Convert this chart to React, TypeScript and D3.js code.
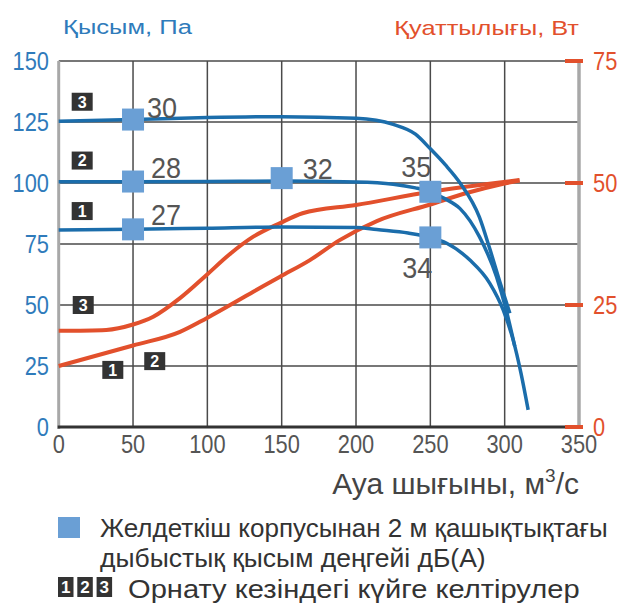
import React from "react";
import * as d3 from "d3";

// ---- Data ----
// Pressure curves (Pa) vs air flow
const pressure3: [number, number][] = [
  [0, 125.3], [50, 126], [100, 126.8], [150, 127.2], [200, 126.5], [225, 124], [240, 120],
  [250, 114], [260, 107.5], [270, 100], [283, 86], [290, 73], [297, 59], [303.5, 46.6],
];
const pressure2: [number, number][] = [
  [0, 100.5], [50, 100.5], [100, 100.6], [150, 100.8], [200, 100.4], [225, 99.5], [240, 98],
  [250, 96.4], [260, 93.5], [270, 89.5], [283, 78], [294.5, 61.6], [301, 48], [306.8, 33],
];
const pressure1: [number, number][] = [
  [0, 80.7], [50, 81], [100, 81.5], [150, 82], [200, 81.8], [214, 80.9], [235, 79.5],
  [250, 77.7], [261, 75.3], [276.6, 68.4], [290, 58.9], [299, 48], [305.7, 35.7], [311, 22], [315.8, 7],
];
// Power curves (W)
const power3: [number, number][] = [
  [0, 19.7], [32, 19.9], [50, 21], [63.6, 22.6], [81.6, 26.4], [99.3, 31.1], [115, 35.4],
  [130.9, 39], [149, 41.8], [164, 43.8], [200, 45.5], [250, 48.2], [310, 50.6],
];
const power1: [number, number][] = [
  [0, 12.5], [50, 16.7], [81.6, 19.5], [99.5, 22.3], [130.9, 27.7], [148.9, 30.8], [169, 34.2],
  [189, 38.3], [214, 42.2], [250, 45.6], [275, 48], [297, 49.7], [310, 50.5],
];
// Sound pressure markers: [flow, pressure, dB(A)]
const markers: [number, number, string][] = [
  [50, 126, "30"], [50, 100.6, "28"], [50, 81, "27"], [150, 102, "32"], [250, 96.4, "35"], [250, 77.7, "34"],
];
const xTicks = [0, 50, 100, 150, 200, 250, 300, 350];
const yLeftTicks = [0, 25, 50, 75, 100, 125, 150];
const yRightTicks = [0, 25, 50, 75];
// Setting labels: [label, flow, pressure]
const curveTags: [string, number, number][] = [
  ["3", 15.8, 133.3], ["2", 15.8, 109.2], ["1", 15.8, 88.5],
  ["3", 16.5, 50], ["1", 36.4, 23.4], ["2", 64.6, 27],
];

const titleLeft = "Қысым, Па";
const titleRight = "Қуаттылығы, Вт";
const legend1a = "Желдеткіш корпусынан 2 м қашықтықтағы";
const legend1b = "дыбыстық қысым деңгейі дБ(А)";
const legend2 = "Орнату кезіндегі күйге келтірулер";

const BLUE = "#1b6dab";
const BLUE_TXT = "#2f7bbb";
const RED = "#e2502c";
const MARK = "#6a9fd5";
const GRID = "#4a4a4a";
const SANS = "'Liberation Sans', Arial, sans-serif";

function SText(props: {
  x: number; y: number; sx: number; size: number; fill: string; anchor?: string; dy?: string;
  weight?: string; children: React.ReactNode;
}) {
  const { x, y, sx, size, fill, anchor = "start", dy, weight, children } = props;
  return (
    <text transform={`translate(${x},${y}) scale(${sx},1)`} textAnchor={anchor} dy={dy}
      fontFamily={SANS} fontSize={size} fill={fill} fontWeight={weight}>{children}</text>
  );
}

export default function App() {
  const W = 621, H = 609;
  const x = d3.scaleLinear().domain([0, 350]).range([58.7, 579]);
  const yL = d3.scaleLinear().domain([0, 150]).range([427, 61]);
  const yR = d3.scaleLinear().domain([0, 75]).range([427, 61]);

  const blueLine = d3.line<[number, number]>().x(d => x(d[0])).y(d => yL(d[1])).curve(d3.curveMonotoneX);
  const redLine = d3.line<[number, number]>().x(d => x(d[0])).y(d => yR(d[1])).curve(d3.curveMonotoneX);

  const labelOffset: Record<string, { dx: number; dy: number; anchor: string }> = {
    "30": { dx: 14, dy: -2, anchor: "start" },
    "28": { dx: 18, dy: -4, anchor: "start" },
    "27": { dx: 18, dy: -4, anchor: "start" },
    "32": { dx: 21, dy: 1, anchor: "start" },
    "35": { dx: 1, dy: -15, anchor: "end" },
    "34": { dx: 2, dy: 41, anchor: "end" },
  };

  return (
    <svg width={W} height={H} style={{ position: "absolute", left: 0, top: 0, background: "#fff" }}>
      {/* grid */}
      {yLeftTicks.filter(t => t > 0).map(t => (
        <line key={"h" + t} x1={x(0)} x2={x(350)} y1={yL(t)} y2={yL(t)} stroke={GRID} strokeWidth={1.5} />
      ))}
      {xTicks.filter(t => t > 0 && t < 350).map(t => (
        <line key={"v" + t} x1={x(t)} x2={x(t)} y1={yL(150)} y2={yL(0)} stroke={GRID} strokeWidth={1.5} />
      ))}
      {/* axes */}
      <line x1={x(0)} x2={x(0)} y1={yL(150)} y2={yL(0) + 2} stroke="#a8a8a8" strokeWidth={3} />
      <line x1={x(350)} x2={x(350)} y1={yL(150)} y2={yL(0) + 2} stroke="#a8a8a8" strokeWidth={3.5} />
      <line x1={x(0) - 1} x2={x(350)} y1={yL(0)} y2={yL(0)} stroke="#333" strokeWidth={3} />
      {yRightTicks.map(t => (
        <line key={"rt" + t} x1={x(350) - 14} x2={x(350) + 4} y1={yR(t)} y2={yR(t)} stroke={RED} strokeWidth={4} />
      ))}

      {/* tick labels */}
      {yLeftTicks.map(t => (
        <SText key={"yl" + t} x={49} y={yL(t)} sx={0.84} dy="0.36em" anchor="end" size={26} fill={BLUE_TXT}>{t}</SText>
      ))}
      {yRightTicks.map(t => (
        <SText key={"yr" + t} x={593} y={yR(t)} sx={0.84} dy="0.36em" size={26} fill={RED}>{t}</SText>
      ))}
      {xTicks.map(t => (
        <SText key={"x" + t} x={x(t)} y={453} sx={0.84} anchor="middle" size={26} fill="#555">{t}</SText>
      ))}

      {/* power curves */}
      {[power3, power1].map((d, i) => (
        <path key={"p" + i} d={redLine(d) || ""} fill="none" stroke={RED} strokeWidth={4} strokeLinejoin="round" />
      ))}
      {/* pressure curves */}
      {[pressure3, pressure2, pressure1].map((d, i) => (
        <path key={"b" + i} d={blueLine(d) || ""} fill="none" stroke={BLUE} strokeWidth={3.5} />
      ))}

      {/* markers */}
      {markers.map(([f, p, lab], i) => {
        const o = labelOffset[lab];
        return (
          <g key={"m" + i}>
            <rect x={x(f) - 11} y={yL(p) - 11} width={22} height={22} fill={MARK} />
            <SText x={x(f) + o.dx} y={yL(p) + o.dy} sx={0.9} anchor={o.anchor} size={30} fill="#555">{lab}</SText>
          </g>
        );
      })}

      {/* curve tags */}
      {curveTags.map(([lab, f, p], i) => (
        <g key={"t" + i}>
          <rect x={x(f) - 10.5} y={yL(p) - 9} width={21} height={18} fill="#333" />
          <text x={x(f)} y={yL(p)} dy="0.36em" textAnchor="middle" fontFamily={SANS} fontWeight="bold" fontSize={16} fill="#fff">{lab}</text>
        </g>
      ))}

      {/* titles */}
      <SText x={63} y={34} sx={1.22} size={21} fill={BLUE_TXT}>{titleLeft}</SText>
      <SText x={579} y={35} sx={1.21} anchor="end" size={21} fill={RED}>{titleRight}</SText>
      <text x={579} y={494} textAnchor="end" fontFamily={SANS} fontSize={30} fill="#444">
        Ауа шығыны, м<tspan dy={-12} fontSize={19}>3</tspan><tspan dy={12}>/с</tspan>
      </text>

      {/* legend */}
      <rect x={58} y={517} width={22} height={21} fill={MARK} />
      <text x={100} y={537} fontFamily={SANS} fontSize={26} fill="#333">{legend1a}</text>
      <SText x={100} y={567} sx={1.02} size={26} fill="#333">{legend1b}</SText>
      {["1", "2", "3"].map((lab, i) => (
        <g key={"lg" + lab}>
          <rect x={58 + i * 19.3} y={577} width={15.5} height={20} fill="#333" />
          <text x={58 + i * 19.3 + 7.75} y={587} dy="0.36em" textAnchor="middle" fontFamily={SANS} fontWeight="bold" fontSize={17} fill="#fff">{lab}</text>
        </g>
      ))}
      <SText x={128} y={598} sx={1.12} size={26} fill="#333">{legend2}</SText>
    </svg>
  );
}
